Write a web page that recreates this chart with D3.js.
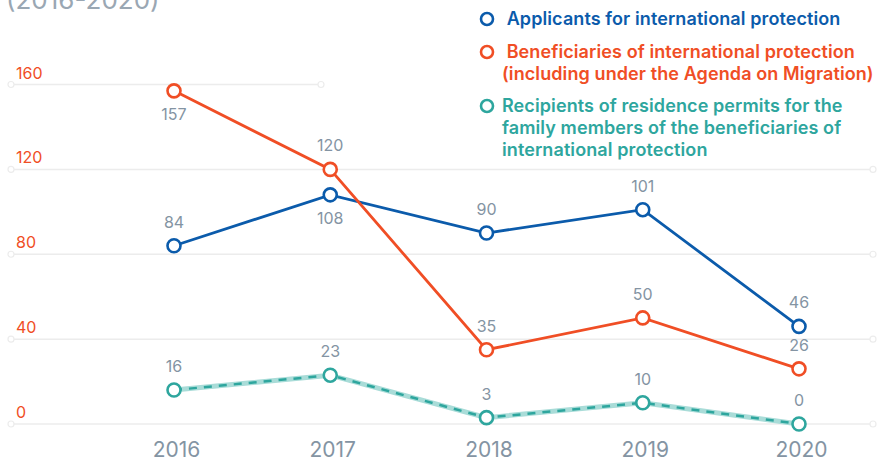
<!DOCTYPE html>
<html>
<head>
<meta charset="utf-8">
<script src="https://cdnjs.cloudflare.com/ajax/libs/d3/7.8.5/d3.min.js"></script>
<style>
body {
   margin: 0;
   background: #fff;
   font-family: Inter, "Noto Sans", sans-serif;
}
svg { display: block; }
</style>
</head>
<body>
<svg id="canvas" width="879" height="460"></svg>
<script>

var years = [2016, 2017, 2018, 2019, 2020];
var yTicks = [0, 40, 80, 120, 160];

var applicants = [84, 108, 90, 101, 46];
var beneficiaries = [157, 120, 35, 50, 26];
var familyMembers = [16, 23, 3, 10, 0];

// where each value label sits: above or below its point
var applicantsPos = ['up', 'down', 'up', 'up', 'up'];
var beneficiariesPos = ['down', 'up', 'up', 'up', 'up'];
var familyPos = ['up', 'up', 'up', 'up', 'up'];

var legendLines = [
  ['Applicants for international protection'],
  [' Beneficiaries of international protection', '(including under the Agenda on Migration)'],
  ['Recipients of residence permits for the', 'family members of the beneficiaries of', 'international protection']
];

var BLUE = '#0b5bab', ORANGE = '#f04e25', TEAL = '#2ea69e', TEAL_LIGHT = '#a9dcd8';
var GRAY = '#8494a3', GRID = '#ececec';

var series = [
  {name: 'applicants', values: applicants, pos: applicantsPos, color: BLUE},
  {name: 'beneficiaries', values: beneficiaries, pos: beneficiariesPos, color: ORANGE},
  {name: 'family', values: familyMembers, pos: familyPos, color: TEAL, dashed: true}
];

var svg = d3.select('#canvas');

var x = d3.scaleLinear().domain([2016, 2020]).range([174, 799]);
var y = d3.scaleLinear().domain([0, 160]).range([424, 84.5]);

var gridLeft = 11, gridRight = 873, legendLeft = 321;

// title, mostly cut off at the top
svg.append('text')
  .attr('x', 6)
  .attr('y', 9)
  .style('font-size', '26px')
  .style('fill', '#9aa7b3')
  .text('(2016-2020)');

// gridlines with little rings at both ends
var grid = svg.append('g');
yTicks.forEach(function(t) {
  var x2 = t === 160 ? legendLeft : gridRight;
  grid.append('line')
    .attr('x1', gridLeft).attr('x2', x2)
    .attr('y1', y(t)).attr('y2', y(t))
    .style('stroke', GRID).style('stroke-width', 1.5);
  [gridLeft, x2].forEach(function(cx) {
    grid.append('circle')
      .attr('cx', cx).attr('cy', y(t)).attr('r', 3)
      .style('fill', '#fff').style('stroke', GRID).style('stroke-width', 1.2);
  });
  grid.append('text')
    .attr('x', 16)
    .attr('y', y(t) - 6)
    .style('font-size', '16px')
    .style('fill', ORANGE)
    .text(t);
});

// x axis labels
var xAxis = d3.axisBottom(x).tickValues(years).tickFormat(d3.format('d')).tickSize(0);
svg.append('g')
  .attr('transform', 'translate(2, 439)')
  .call(xAxis)
  .call(function(g) { g.select('.domain').remove(); })
  .selectAll('text')
  .attr('dy', '0.71em')
  .style('font-family', 'Inter, "Noto Sans", sans-serif')
  .style('font-size', '21px')
  .style('fill', GRAY);

var line = d3.line()
  .x(function(d, i) { return x(years[i]); })
  .y(function(d) { return y(d); });

series.forEach(function(s) {
  var g = svg.append('g');
  if (s.dashed) {
    g.append('path')
      .attr('d', line(s.values))
      .style('fill', 'none')
      .style('stroke', TEAL_LIGHT)
      .style('stroke-width', 5);
    g.append('path')
      .attr('d', line(s.values))
      .style('fill', 'none')
      .style('stroke', s.color)
      .style('stroke-width', 2.5)
      .style('stroke-dasharray', '8,7');
  } else {
    g.append('path')
      .attr('d', line(s.values))
      .style('fill', 'none')
      .style('stroke', s.color)
      .style('stroke-width', 2.8);
  }
  g.selectAll('circle')
    .data(s.values)
    .enter()
    .append('circle')
    .attr('cx', function(d, i) { return x(years[i]); })
    .attr('cy', function(d) { return y(d); })
    .attr('r', 6.5)
    .style('fill', '#fff')
    .style('stroke', s.color)
    .style('stroke-width', 2.6);
  g.selectAll('text')
    .data(s.values)
    .enter()
    .append('text')
    .attr('x', function(d, i) { return x(years[i]); })
    .attr('y', function(d, i) { return y(d) + (s.pos[i] === 'up' ? -18 : 29); })
    .attr('text-anchor', 'middle')
    .style('font-size', '16px')
    .style('fill', GRAY)
    .text(function(d) { return d; });
});

// legend
var legend = svg.append('g');
var legendRowY = [25, 58, 112];
legendLines.forEach(function(lines, i) {
  var s = series[i];
  legend.append('circle')
    .attr('cx', 487).attr('cy', legendRowY[i] - 6).attr('r', 6)
    .style('fill', '#fff').style('stroke', s.color).style('stroke-width', 2.6);
  lines.forEach(function(txt, j) {
    legend.append('text')
      .attr('x', 502)
      .attr('y', legendRowY[i] + j * 22)
      .attr('xml:space', 'preserve')
      .style('white-space', 'pre')
      .style('font-size', '18px')
      .style('font-weight', 600)
      .style('letter-spacing', '0.1px')
      .style('fill', s.color)
      .text(i === 0 ? ' ' + txt : txt);
  });
});

</script>
</body>
</html>
